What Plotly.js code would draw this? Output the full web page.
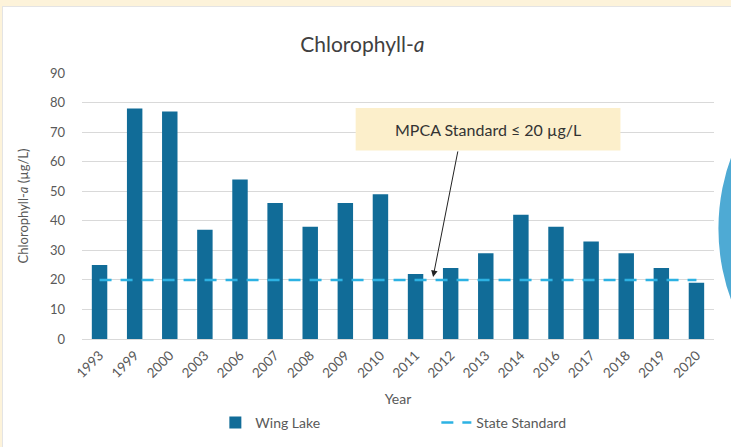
<!DOCTYPE html>
<html>
<head>
<meta charset="utf-8">
<script src="https://cdn.plot.ly/plotly-3.0.1.min.js"></script>
<style>
  html, body { margin: 0; padding: 0; background: #FDF3DA; width: 731px; height: 447px; overflow: hidden; }
  #wrap { position: absolute; left: 2px; top: 6px; width: 729px; height: 440px; background: #fff;
          border-left: 1px solid #E4E4E4; border-top: 1px solid #E4E4E4; border-bottom: 1px solid #EDEDED; }
  #chart { width: 729px; height: 440px; }
</style>
</head>
<body>
<div id="wrap"><div id="chart"></div></div>
<script>
const years = ['1993','1999','2000','2003','2006','2007','2008','2009','2010','2011','2012','2013','2014','2016','2017','2018','2019','2020'];
const wingLake = [25, 78, 77, 37, 54, 46, 38, 46, 49, 22, 24, 29, 42, 38, 33, 29, 24, 19];
const stateStandardValue = 20;
const stateStandard = years.map(() => stateStandardValue);
const yTicks = [0, 10, 20, 30, 40, 50, 60, 70, 80, 90];

const FONT = 'Lato, "Noto Sans", sans-serif';

const traces = [
  {
    type: 'bar', name: 'Wing Lake', x: years, y: wingLake,
    marker: { color: '#116C98' }, hoverinfo: 'x+y'
  },
  {
    type: 'scatter', mode: 'lines', name: 'State Standard', x: years, y: stateStandard,
    line: { color: '#2DB2E3', width: 2.5, dash: '12px,9px' }
  }
];

const layout = {
  width: 729, height: 440,
  margin: { l: 78.5, r: 17.5, t: 66, b: 108, pad: 0, autoexpand: false },
  paper_bgcolor: '#ffffff', plot_bgcolor: '#ffffff',
  font: { family: FONT, color: '#595959', size: 12 },
  title: {
    text: 'Chlorophyll-<i>a</i>',
    font: { family: FONT, size: 21, color: '#404040' },
    x: 0.493, xanchor: 'center', y: 0.915, yanchor: 'middle', automargin: false
  },
  bargap: 0.56,
  showlegend: true,
  legend: {
    orientation: 'h', x: 0.211, xanchor: 'left', y: -0.315, yanchor: 'middle',
    font: { family: FONT, size: 14, color: '#595959' },
    entrywidth: 176, entrywidthmode: 'pixels', bgcolor: 'rgba(0,0,0,0)'
  },
  xaxis: {
    type: 'category', tickangle: -45, tickfont: { family: FONT, size: 13.5, color: '#595959' },
    ticklabelstandoff: 5,
    showgrid: false, ticks: '', showline: false, zeroline: false, automargin: false,
    title: { text: 'Year', font: { family: FONT, size: 14, color: '#595959' }, standoff: 14 },
    fixedrange: true
  },
  yaxis: {
    range: [0, 90], tickvals: yTicks, ticktext: yTicks.map(String),
    tickfont: { family: FONT, size: 13, color: '#595959' },
    showgrid: true, gridcolor: '#D9D9D9', gridwidth: 1,
    zeroline: true, zerolinecolor: '#D9D9D9', zerolinewidth: 1,
    ticks: '', ticklabelstandoff: 16, automargin: false,
    title: { text: 'Chlorophyll-<i>a</i> (µg/L)', font: { family: FONT, size: 13, color: '#595959' }, standoff: 18 },
    fixedrange: true
  },
  shapes: [
    { type: 'rect', xref: 'paper', yref: 'paper', x0: 0.433, x1: 0.852, y0: 0.709, y1: 0.868,
      fillcolor: '#FCEFCB', line: { width: 0 }, layer: 'above' },
    { type: 'circle', xref: 'paper', yref: 'paper', x0: 1.007, x1: 1.659, y0: -0.362, y1: 1.192,
      fillcolor: '#4EAAD4', line: { width: 0 }, layer: 'above' }
  ],
  annotations: [
    { xref: 'paper', yref: 'paper', x: 0.642, y: 0.789, xanchor: 'center', yanchor: 'middle',
      text: 'MPCA Standard ≤ 20 µg/L', showarrow: false,
      font: { family: FONT, size: 16, color: '#333333' } },
    { xref: 'x', yref: 'y', x: 9.5, y: 21, text: '', showarrow: true,
      axref: 'pixel', ayref: 'pixel', ax: 25, ay: -127,
      arrowhead: 2, arrowsize: 1.3, arrowwidth: 1, arrowcolor: '#222222', standoff: 0 }
  ]
};

Plotly.newPlot('chart', traces, layout, { displayModeBar: false, staticPlot: true });
</script>
</body>
</html>
